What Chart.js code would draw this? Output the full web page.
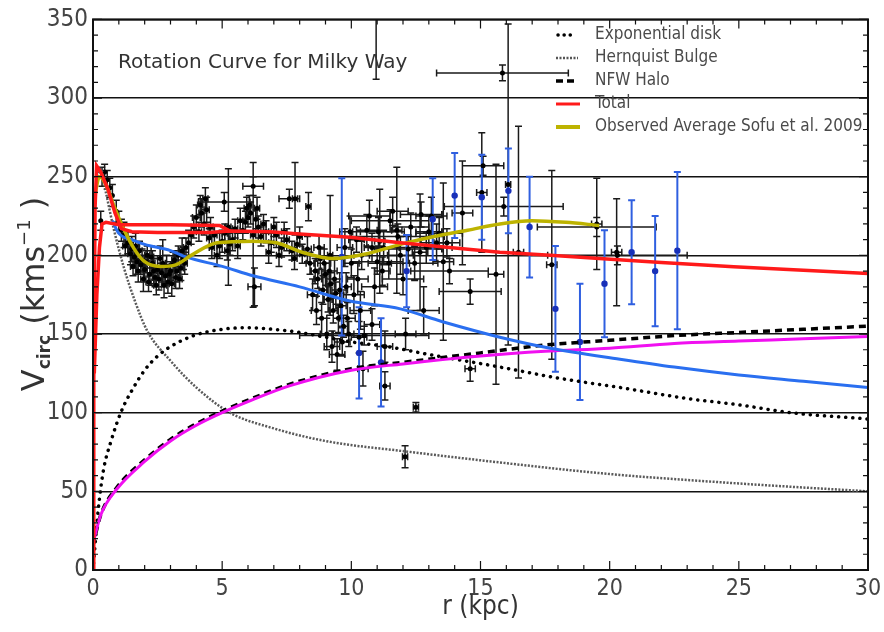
<!DOCTYPE html>
<html>
<head>
<meta charset="utf-8">
<script src="https://cdn.jsdelivr.net/npm/chart.js@4.4.1/dist/chart.umd.min.js"></script>
<style>
  body { margin: 0; background: #fff; }
</style>
</head>
<body>
<canvas id="chart" width="884" height="632"></canvas>
<script>
// Rotation curve of the Milky Way: model components + observed data

const FONT = "'DejaVu Sans Condensed', 'DejaVu Sans', sans-serif";

// Exponential disk
const diskR = [0, 0.2, 0.4, 0.7, 1.1, 1.5, 2, 2.5, 3, 3.9, 5, 6, 7, 8, 9, 10, 11.4, 13, 15.75, 18, 20.4, 23, 25, 27, 30];
const diskV = [0, 38, 63, 82, 101, 114, 127, 136, 142, 149, 153, 154, 153, 151, 148, 145, 142, 137, 129, 122, 116, 109, 105, 100, 96];

// Hernquist bulge
const bulgeR = [0.2, 0.3, 0.5, 0.8, 1.2, 1.6, 2.1, 3, 4, 5.3, 7, 9, 12.3, 15.4, 20, 25, 30];
const bulgeV = [250, 255, 240, 217, 192, 172, 152, 133, 116, 100, 90, 82, 75, 69, 61, 55, 50];

// NFW halo
const haloR = [0, 0.3, 0.9, 2, 3, 4, 5, 6, 7.6, 10, 12, 15, 17.5, 20, 22.5, 25, 27.5, 30];
const haloV = [16, 35, 52, 70, 83, 93, 101, 108, 118, 128, 132, 138, 143, 146, 149, 151, 153, 155];

// magenta curve (halo, second model)
const pinkV = [17, 35, 51, 69, 82, 92, 100, 107, 117, 127, 131, 136, 139, 141, 144, 145.5, 147, 148.5];

// blue curve
const blueR = [0.75, 1, 1.5, 2, 3, 3.6, 5, 6.2, 8, 9.95, 11.9, 13.5, 15.75, 17.7, 20.4, 22.5, 25, 27.5, 30];
const blueV = [222, 214, 210, 207, 203, 199, 193, 187, 180, 171, 166, 158, 148, 141, 134, 129, 124, 120, 116];

// Total (two branches near the centre)
const totalR = [0, 0.03, 0.08, 0.14, 0.3, 0.58, 0.85, 1.1, 1.5, 2.5, 3.5, 4.5, 5.3, 6.85, 8, 9.95, 11.9, 13.8, 15.75, 17.7, 19.6, 22, 24.8, 27.5, 30];
const totalV = [0, 120, 230, 257, 253, 242, 227, 217, 215, 214.5, 214.5, 214.5, 215.5, 215, 213.6, 211.5, 208, 205, 202, 200, 198, 195.5, 192.7, 190.5, 188.5];
const total2R = [0.05, 0.15, 0.25, 0.35, 0.5, 1, 1.94, 3, 4.9, 5.3];
const total2V = [125, 175, 205, 220, 221, 219.5, 219.5, 219.5, 219, 215.5];

// Observed average (Sofue et al. 2009)
const obsAvgR = [0, 0.1, 0.25, 0.5, 0.8, 1.1, 1.6, 2.0, 2.6, 3.2, 3.8, 4.8, 6.2, 7.1, 8.1, 9.3, 10.6, 11.9, 13.2, 14.5, 15.75, 17, 18.3, 19.6];
const obsAvgV = [228, 240, 250, 245, 232, 220, 204, 196, 193, 194, 200, 208, 209, 208, 202, 198, 201, 207, 212, 216, 220, 222, 221, 219];

// black data points: r, v, r error, v error
const ptR = [0.3, 0.35, 0.45, 0.55, 0.65, 0.75, 0.9, 1.0, 1.1, 1.2, 1.35, 1.5, 1.6, 1.7, 1.8, 1.9, 2.0, 2.1, 2.2, 2.3, 2.4, 2.5, 2.6, 2.7, 2.8, 2.9, 3.0, 3.1, 3.2, 3.3, 3.4, 3.5, 3.6, 3.7, 3.8, 3.9, 4.0, 4.1, 4.2, 4.3, 4.4, 4.5, 4.6, 4.7, 4.9, 5.0, 5.08, 5.2, 5.24, 5.4, 5.6, 5.8, 5.9, 6.0, 6.1, 6.2, 6.2, 6.25, 6.3, 6.4, 6.5, 6.7, 6.9, 7.1, 7.3, 7.5, 7.6, 7.7, 7.82, 7.9, 8.1, 8.3, 8.34, 8.4, 8.6, 8.7, 8.8, 8.9, 9.0, 9.1, 9.18, 9.2, 9.3, 9.4, 9.5, 9.6, 9.7, 9.8, 9.9, 10.0, 10.2, 10.3, 10.45, 10.4, 10.5, 10.6, 10.8, 10.8, 10.96, 11.0, 11.1, 11.2, 11.3, 11.3, 11.5, 11.76, 11.8, 12.08, 12.1, 12.2, 12.5, 12.66, 12.7, 13.0, 13.3, 13.56, 13.8, 14.3, 14.6, 14.6, 15.05, 15.1, 15.6, 15.85, 15.9, 16.07, 16.47, 17.76, 19.5, 19.5, 20.27, 20.3];
const ptV = [222, 250, 253, 248, 243, 238, 228, 222, 216, 213, 208, 204, 199, 196, 203, 197, 191, 200, 188, 195, 186, 191, 198, 195, 187, 183, 190, 194, 186, 200, 192, 198, 205, 208, 213, 218, 224, 215, 227, 220, 229, 211, 205, 213, 206, 209, 234, 203, 218, 210, 206, 216, 221, 224, 227, 213, 244, 180, 223, 218, 212, 215, 208, 213, 205, 210, 236, 203, 236, 207, 201, 204, 231, 195, 190, 185, 198, 178, 188, 172, 200, 182, 165, 176, 160, 168, 155, 180, 150, 195, 210, 148, 128, 200, 149, 216, 205, 156, 360, 196, 209, 190, 117, 142, 222, 216, 212, 72, 150, 204, 103.5, 202, 226, 215, 208, 196, 190, 227, 177, 128, 240, 257, 188, 316, 231, 245, 202, 194, 218, 220, 202, 200];
const ptDr = [0.05, 0.05, 0.05, 0.05, 0.05, 0.05, 0.05, 0.05, 0.05, 0.08, 0.08, 0.1, 0.1, 0.1, 0.1, 0.1, 0.1, 0.1, 0.1, 0.1, 0.1, 0.1, 0.1, 0.1, 0.1, 0.1, 0.1, 0.1, 0.1, 0.1, 0.1, 0.1, 0.1, 0.1, 0.1, 0.1, 0.15, 0.1, 0.1, 0.1, 0.1, 0.1, 0.1, 0.1, 0.1, 0.1, 1.0, 0.1, 0.1, 0.1, 0.1, 0.1, 0.1, 0.1, 0.1, 0.1, 0.4, 0.25, 0.1, 0.1, 0.1, 0.1, 0.1, 0.1, 0.1, 0.1, 0.4, 0.1, 0.1, 0.1, 0.1, 0.15, 0.1, 0.15, 0.15, 0.15, 0.15, 0.15, 0.15, 0.15, 0.1, 0.15, 0.15, 0.2, 0.2, 0.2, 0.2, 0.2, 0.2, 0.3, 0.3, 0.3, 0.2, 0.3, 2.5, 0.4, 0.3, 0.3, 0.1, 1.0, 0.2, 0.3, 0.2, 0.3, 1.5, 0.2, 1.8, 0.1, 0.4, 1.3, 0.1, 0.3, 0.8, 0.5, 0.6, 0.4, 1.5, 0.4, 1.2, 0.2, 0.2, 0.8, 0.3, 2.55, 2.3, 0.1, 0.2, 0.2, 2.3, 0.2, 0.2, 2.7];
const ptDv = [6, 6, 5, 6, 6, 7, 7, 6, 7, 8, 7, 8, 7, 8, 6, 7, 8, 6, 7, 8, 6, 7, 8, 15, 6, 7, 6, 8, 7, 6, 8, 7, 6, 8, 6, 7, 8, 6, 9, 7, 8, 6, 7, 6, 8, 7, 6, 6, 37, 7, 8, 6, 7, 6, 7, 46, 6, 12, 6, 7, 6, 7, 6, 8, 6, 7, 6, 6, 23, 7, 6, 8, 9, 7, 8, 6, 7, 9, 7, 8, 38, 7, 8, 7, 9, 8, 7, 9, 8, 9, 8, 10, 11, 9, 6, 10, 9, 10, 48, 8, 33, 9, 9, 10, 7, 40, 8, 7, 10, 9, 3, 37, 8, 10, 12, 50, 8, 33, 8, 8, 38, 6, 70, 5, 6, 102, 80, 60, 6, 29, 34, 6];

// dense core of the black data (inner disk and solar circle)
const coreR = [1.25, 1.45, 1.55, 1.65, 1.75, 1.85, 1.95, 2.05, 2.15, 2.25, 2.35, 2.45, 2.55, 2.65, 2.75, 2.85, 2.95, 3.05, 3.15, 3.25, 3.35, 3.45, 3.55,
    4.15, 4.35, 4.55, 4.8, 5.1, 5.3, 5.5, 5.7, 5.95, 6.05, 6.35, 6.6, 6.8, 7.0, 7.2, 7.4, 7.8, 8.0,
    8.5, 8.65, 8.75, 8.85, 8.95, 9.05, 9.15, 9.25, 9.35, 9.45, 9.55, 9.65, 9.75, 9.85, 9.95, 10.1, 10.25, 10.35,
    10.7, 10.9, 11.05, 11.25, 11.45, 11.6, 11.9, 12.0, 12.3, 12.45, 12.9, 13.1, 13.4, 13.7, 12.8];
const coreV = [206, 201, 193, 206, 190, 194, 185, 196, 183, 199, 190, 181, 185, 189, 181, 193, 188, 182, 197, 190, 185, 203, 195,
    232, 236, 218, 200, 214, 207, 217, 222, 230, 232, 230, 220, 202, 218, 200, 215, 198, 212,
    175, 165, 205, 160, 195, 150, 190, 142, 185, 137, 178, 145, 205, 160, 215, 175, 185, 165,
    225, 180, 215, 205, 195, 228, 200, 185, 218, 195, 205, 225, 214, 208, 165];
const coreDr = [0.1, 0.1, 0.1, 0.1, 0.1, 0.1, 0.1, 0.1, 0.1, 0.1, 0.1, 0.1, 0.1, 0.1, 0.1, 0.1, 0.1, 0.1, 0.1, 0.1, 0.1, 0.1, 0.1,
    0.1, 0.1, 0.1, 0.1, 0.1, 0.1, 0.1, 0.1, 0.1, 0.1, 0.1, 0.1, 0.1, 0.1, 0.1, 0.1, 0.1, 0.1,
    0.2, 0.2, 0.2, 0.2, 0.25, 0.25, 0.3, 0.3, 0.3, 0.3, 0.3, 0.3, 0.3, 0.3, 0.4, 0.4, 0.4, 0.4,
    0.8, 0.5, 1.0, 0.6, 0.8, 0.6, 0.5, 0.8, 0.7, 0.9, 1.0, 0.6, 0.9, 0.5, 0.6];
const coreDv = [6, 7, 6, 8, 7, 6, 8, 7, 6, 7, 8, 6, 7, 6, 8, 7, 6, 8, 6, 7, 6, 8, 7,
    6, 7, 6, 7, 6, 7, 6, 8, 7, 6, 7, 6, 7, 6, 7, 6, 7, 6,
    10, 9, 8, 10, 9, 10, 9, 10, 12, 10, 11, 9, 12, 10, 10, 12, 10, 12,
    10, 12, 9, 11, 10, 9, 12, 10, 9, 11, 10, 12, 10, 9, 15];

// blue data points: r, v, v error
const bptR = [9.63, 10.3, 11.15, 12.14, 13.15, 14.0, 15.05, 16.08, 16.9, 17.9, 18.85, 19.8, 20.85, 21.76, 22.62];
const bptV = [199, 138, 132, 190, 223, 238, 237, 241, 218, 166, 145, 182, 202, 190, 203];
const bptDv = [50, 29, 28, 23, 26, 27, 27, 27, 32, 40, 37, 34, 33, 35, 50];

const yTicks = [0, 50, 100, 150, 200, 250, 300, 350];
const xTicks = [0, 5, 10, 15, 20, 25, 30];

const pts = (xs, ys) => xs.map((x, i) => ({ x: x, y: ys[i] }));

function errBars(chart, xs, ys, dxs, dys, color, width) {
    const ctx = chart.ctx;
    const sx = chart.scales.x, sy = chart.scales.y;
    const cap = 3.5;
    ctx.strokeStyle = color;
    ctx.lineWidth = width;
    ctx.beginPath();
    xs.forEach((r, i) => {
        const px = sx.getPixelForValue(r), py = sy.getPixelForValue(ys[i]);
        const dx = dxs ? dxs[i] : 0;
        const y1 = sy.getPixelForValue(ys[i] - dys[i]), y2 = sy.getPixelForValue(ys[i] + dys[i]);
        ctx.moveTo(px, y1); ctx.lineTo(px, y2);
        ctx.moveTo(px - cap, y1); ctx.lineTo(px + cap, y1);
        ctx.moveTo(px - cap, y2); ctx.lineTo(px + cap, y2);
        if (dx > 0.07) {
            const x1 = sx.getPixelForValue(r - dx), x2 = sx.getPixelForValue(r + dx);
            ctx.moveTo(x1, py); ctx.lineTo(x2, py);
            ctx.moveTo(x1, py - cap); ctx.lineTo(x1, py + cap);
            ctx.moveTo(x2, py - cap); ctx.lineTo(x2, py + cap);
        }
    });
    ctx.stroke();
}

const decor = {
    id: 'decor',
    beforeDatasetsDraw(chart) {
        const ctx = chart.ctx, a = chart.chartArea;
        ctx.save();
        ctx.beginPath();
        ctx.rect(a.left, a.top, a.right - a.left, a.bottom - a.top);
        ctx.clip();
        errBars(chart, ptR, ptV, ptDr, ptDv, '#1a1a1a', 1.5);
        errBars(chart, coreR, coreV, coreDr, coreDv, '#1a1a1a', 1.5);
        errBars(chart, bptR, bptV, null, bptDv, '#2f5fe0', 2);
        ctx.restore();
    },
    afterDraw(chart) {
        const ctx = chart.ctx, a = chart.chartArea;
        const sx = chart.scales.x, sy = chart.scales.y;
        ctx.save();
        // minor / major ticks on all four sides
        ctx.strokeStyle = '#111';
        ctx.lineWidth = 1.2;
        ctx.beginPath();
        for (let v = 0; v <= 350; v += 10) {
            const py = sy.getPixelForValue(v);
            const len = v % 50 === 0 ? 9 : 5;
            ctx.moveTo(a.left, py); ctx.lineTo(a.left + len, py);
            ctx.moveTo(a.right, py); ctx.lineTo(a.right - len, py);
        }
        for (let r = 0; r <= 30; r += 1) {
            const px = sx.getPixelForValue(r);
            const len = r % 5 === 0 ? 9 : 5;
            ctx.moveTo(px, a.bottom); ctx.lineTo(px, a.bottom - len);
            ctx.moveTo(px, a.top); ctx.lineTo(px, a.top + len);
        }
        ctx.stroke();
        // frame
        ctx.lineWidth = 2;
        ctx.strokeRect(a.left, a.top, a.right - a.left, a.bottom - a.top);

        // title inside the plot
        ctx.fillStyle = '#333';
        ctx.font = "20px 'DejaVu Sans'";
        ctx.textBaseline = 'middle';
        ctx.fillText('Rotation Curve for Milky Way', 118, 63);

        // legend
        const items = [
            { label: 'Exponential disk', kind: 'disk' },
            { label: 'Hernquist Bulge', kind: 'bulge' },
            { label: 'NFW Halo', kind: 'halo' },
            { label: 'Total', kind: 'total' },
            { label: 'Observed Average Sofu et al. 2009', kind: 'obs' }
        ];
        ctx.font = '17px ' + FONT;
        items.forEach((it, i) => {
            const y = 35 + i * 23;
            ctx.save();
            ctx.beginPath();
            if (it.kind === 'disk') {
                ctx.strokeStyle = '#000'; ctx.lineWidth = 3.5; ctx.lineCap = 'round'; ctx.setLineDash([0.1, 6]);
                ctx.moveTo(558, y); ctx.lineTo(574, y);
            } else if (it.kind === 'bulge') {
                ctx.strokeStyle = '#555'; ctx.lineWidth = 2.5; ctx.setLineDash([2, 1.5]);
                ctx.moveTo(556, y); ctx.lineTo(578, y);
            } else if (it.kind === 'halo') {
                ctx.strokeStyle = '#000'; ctx.lineWidth = 3.5; ctx.setLineDash([7, 4]);
                ctx.moveTo(556, y); ctx.lineTo(578, y);
            } else if (it.kind === 'total') {
                ctx.strokeStyle = '#ff1a1a'; ctx.lineWidth = 3;
                ctx.moveTo(556, y); ctx.lineTo(580, y);
            } else {
                ctx.strokeStyle = '#bdb300'; ctx.lineWidth = 4;
                ctx.moveTo(556, y); ctx.lineTo(580, y);
            }
            ctx.stroke();
            ctx.restore();
            ctx.fillStyle = '#4a4a4a';
            ctx.fillText(it.label, 595, y);
        });

        // axis titles
        ctx.fillStyle = '#333';
        ctx.textAlign = 'center';
        ctx.font = '26px ' + FONT;
        ctx.fillText('r (kpc)', (a.left + a.right) / 2, 607);

        ctx.translate(44, 294);
        ctx.rotate(-Math.PI / 2);
        ctx.textAlign = 'left';
        ctx.textBaseline = 'alphabetic';
        const big = "32px 'DejaVu Sans'", small = "bold 17px 'DejaVu Sans'", sup = "18px 'DejaVu Sans'";
        const parts = [
            { t: 'V', f: big, dy: 0 },
            { t: 'circ', f: small, dy: 6 },
            { t: ' (kms', f: big, dy: 0 },
            { t: '\u22121', f: sup, dy: -14 },
            { t: ' )', f: big, dy: 0 }
        ];
        let w = 0;
        parts.forEach(p => { ctx.font = p.f; w += ctx.measureText(p.t).width; });
        let x = -w / 2;
        parts.forEach(p => {
            ctx.font = p.f;
            ctx.fillText(p.t, x, p.dy);
            x += ctx.measureText(p.t).width;
        });
        ctx.restore();
    }
};

const lineDs = (xs, ys, color, width, dash, order) => ({
    data: pts(xs, ys),
    showLine: true,
    borderColor: color,
    borderWidth: width,
    borderDash: dash,
    pointRadius: 0,
    cubicInterpolationMode: 'monotone',
    fill: false,
    order: order
});

const diskDs = lineDs(diskR, diskV, '#000', 3.5, [0.1, 7], 6);
diskDs.borderCapStyle = 'round';

new Chart(document.getElementById('chart'), {
    type: 'scatter',
    data: {
        datasets: [
            { data: pts(ptR, ptV), pointRadius: 2.5, pointBackgroundColor: '#000', pointBorderWidth: 0, showLine: false, order: 20 },
            { data: pts(coreR, coreV), pointRadius: 2.5, pointBackgroundColor: '#000', pointBorderWidth: 0, showLine: false, order: 20 },
            { data: pts(bptR, bptV), pointRadius: 3.2, pointBackgroundColor: '#1830b8', pointBorderWidth: 0, showLine: false, order: 19 },
            diskDs,
            lineDs(bulgeR, bulgeV, '#5a5a5a', 2.5, [2, 1.5], 7),
            lineDs(haloR, haloV, '#000', 3.5, [7, 5], 5),
            lineDs(haloR, pinkV, '#f010f0', 3, [], 4),
            lineDs(blueR, blueV, '#2a6ff0', 3, [], 3),
            { ...lineDs(totalR, totalV, '#ff1a1a', 3.5, [], 1), cubicInterpolationMode: 'default', tension: 0 },
            { ...lineDs(total2R, total2V, '#ff1a1a', 3.5, [], 1), cubicInterpolationMode: 'default', tension: 0 },
            lineDs(obsAvgR, obsAvgV, '#bdb300', 3.5, [], 2)
        ]
    },
    options: {
        responsive: false,
        animation: false,
        layout: { padding: { top: 10, right: 16, left: 0, bottom: 0 } },
        plugins: { legend: { display: false }, tooltip: { enabled: false } },
        scales: {
            x: {
                type: 'linear', min: 0, max: 30,
                afterFit: s => { s.height = 62; },
                afterBuildTicks: s => { s.ticks = xTicks.map(v => ({ value: v })); },
                grid: { display: false },
                border: { display: false },
                ticks: { color: '#444', padding: -3, maxRotation: 0, font: { family: FONT, size: 23 } }
            },
            y: {
                type: 'linear', min: 0, max: 350,
                afterFit: s => { s.width = 93; },
                afterBuildTicks: s => { s.ticks = yTicks.map(v => ({ value: v })); },
                grid: { color: '#111', lineWidth: 1.5, drawTicks: false },
                border: { display: false },
                ticks: { color: '#444', padding: 5, font: { family: FONT, size: 24 } }
            }
        }
    },
    plugins: [decor]
});
</script>
</body>
</html>
